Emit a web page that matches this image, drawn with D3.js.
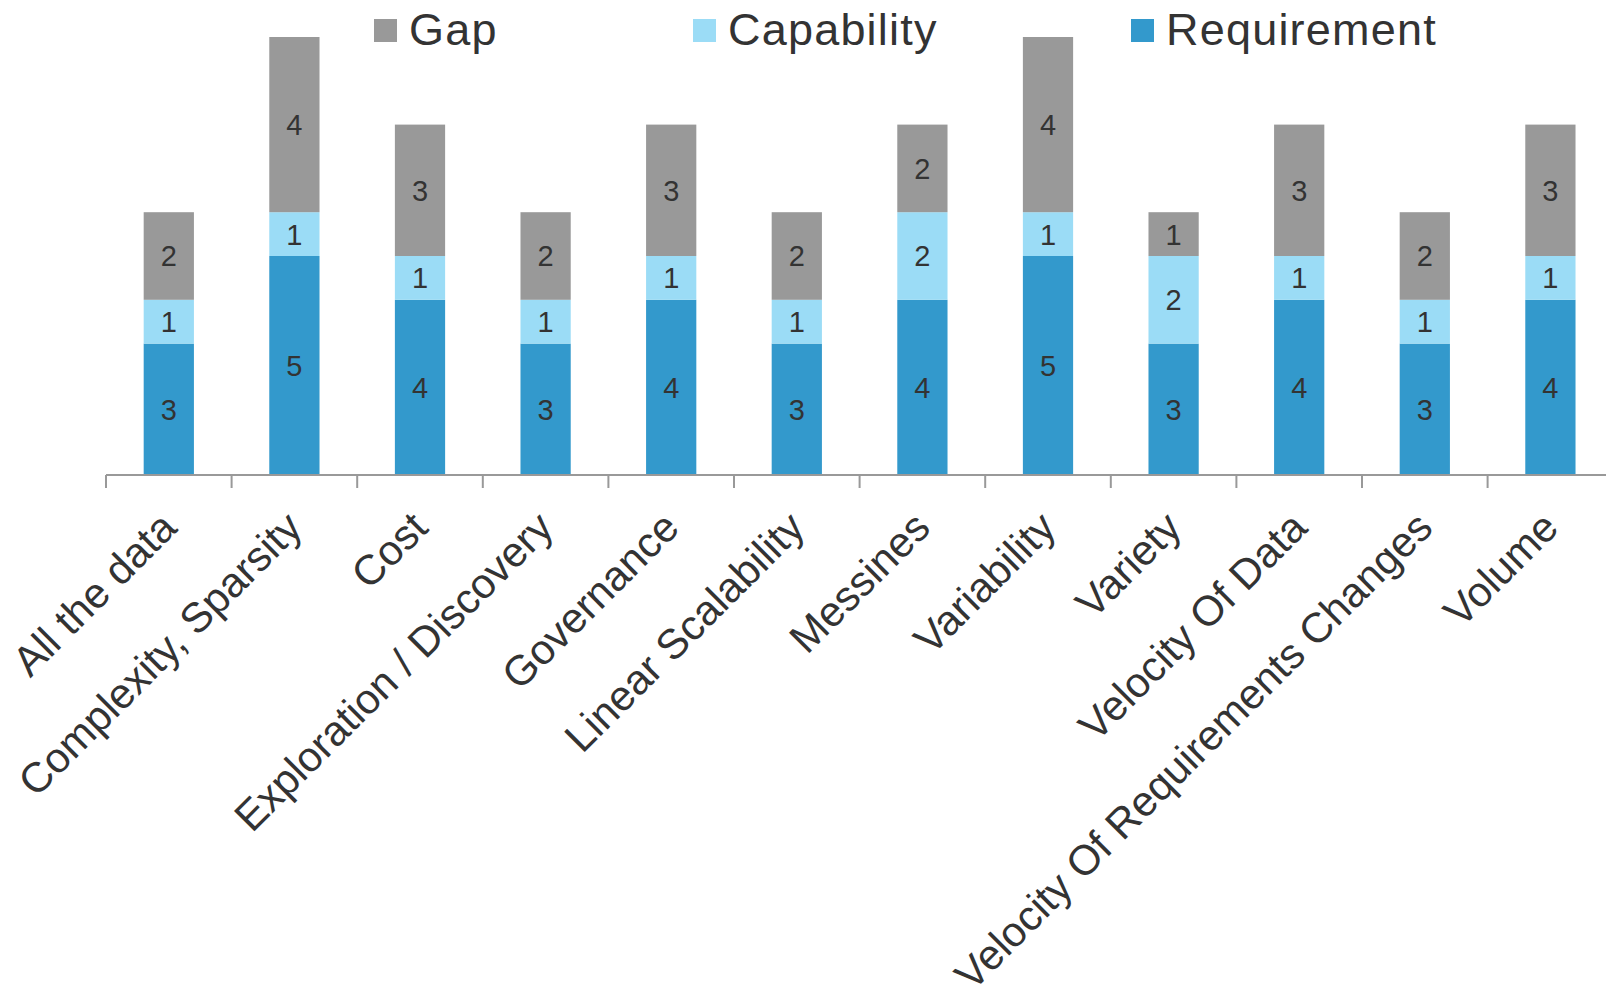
<!DOCTYPE html>
<html>
<head>
<meta charset="utf-8">
<script src="https://cdn.jsdelivr.net/npm/d3@7"></script>
<style>
  body { margin: 0; background: #fff; }
  svg { display: block; font-family: "Liberation Sans", Arial, sans-serif; }
</style>
</head>
<body>
<svg id="chart" width="1606" height="996"></svg>
<script>
// categories and series
var categories = ["All the data", "Complexity, Sparsity", "Cost", "Exploration / Discovery",
    "Governance", "Linear Scalability", "Messines", "Variability", "Variety",
    "Velocity Of Data", "Velocity Of Requirements Changes", "Volume"];
var requirement = [3, 5, 4, 3, 4, 3, 4, 5, 3, 4, 3, 4];
var capability  = [1, 1, 1, 1, 1, 1, 2, 1, 2, 1, 1, 1];
var gap         = [2, 4, 3, 2, 3, 2, 2, 4, 1, 3, 2, 3];
var seriesNames = ["Requirement", "Capability", "Gap"];

var colors = { Requirement: "#3399cc", Capability: "#9bdcf6", Gap: "#999999" };

var svg = d3.select("#chart");
var width = 1606, height = 996;

// tabel for d3.stack
var table = categories.map(function (c, i) {
    return { cat: c, Requirement: requirement[i], Capability: capability[i], Gap: gap[i] };
});
var stacked = d3.stack().keys(seriesNames)(table);

var x = d3.scaleBand()
    .domain(categories)
    .range([106, 106 + 12 * 125.6])
    .paddingInner(0.6)
    .paddingOuter(0.3);

var y = d3.scaleLinear()
    .domain([0, 10])
    .range([475, 37]);

// bars
var layer = svg.append("g").selectAll("g")
    .data(stacked)
    .join("g")
    .attr("fill", function (d) { return colors[d.key]; });

layer.selectAll("rect")
    .data(function (d) { return d; })
    .join("rect")
    .attr("x", function (d) { return x(d.data.cat); })
    .attr("width", x.bandwidth())
    .attr("y", function (d) { return y(d[1]); })
    .attr("height", function (d) { return y(d[0]) - y(d[1]); });

// value labels
layer.selectAll("text")
    .data(function (d) { return d; })
    .join("text")
    .attr("x", function (d) { return x(d.data.cat) + x.bandwidth() / 2; })
    .attr("y", function (d) { return (y(d[0]) + y(d[1])) / 2; })
    .attr("dy", "0.36em")
    .attr("text-anchor", "middle")
    .attr("fill", "#333")
    .style("font-size", "29px")
    .text(function (d) { return d[1] - d[0]; });

// x axis, ticks between the bands
var axis = svg.append("g");
axis.append("line")
    .attr("x1", x.range()[0]).attr("x2", width)
    .attr("y1", y(0)).attr("y2", y(0))
    .attr("stroke", "#999").attr("stroke-width", 2);

var step = x.step();
axis.selectAll(".tick")
    .data(categories)
    .join("line")
    .attr("class", "tick")
    .attr("x1", function (d, i) { return x.range()[0] + i * step; })
    .attr("x2", function (d, i) { return x.range()[0] + i * step; })
    .attr("y1", y(0)).attr("y2", y(0) + 13)
    .attr("stroke", "#999").attr("stroke-width", 2);

axis.selectAll(".lbl")
    .data(categories)
    .join("text")
    .attr("class", "lbl")
    .attr("transform", function (d) {
        return "translate(" + (x(d) + x.bandwidth() / 2 + 10) + "," + (y(0) + 55) + ") rotate(-45)";
    })
    .attr("text-anchor", "end")
    .attr("fill", "#333")
    .style("font-size", "42px")
    .text(function (d) { return d; });

// legend
var legendItems = [
    { name: "Gap", x: 374 },
    { name: "Capability", x: 693 },
    { name: "Requirement", x: 1131 }
];
var lg = svg.append("g").selectAll("g")
    .data(legendItems)
    .join("g")
    .attr("transform", function (d) { return "translate(" + d.x + ",0)"; });
lg.append("rect")
    .attr("y", 19).attr("width", 23).attr("height", 23)
    .attr("fill", function (d) { return colors[d.name]; });
lg.append("text")
    .attr("x", 35).attr("y", 45)
    .attr("fill", "#333")
    .style("font-size", "45px")
    .style("letter-spacing", "1.2px")
    .text(function (d) { return d.name; });
</script>
</body>
</html>
